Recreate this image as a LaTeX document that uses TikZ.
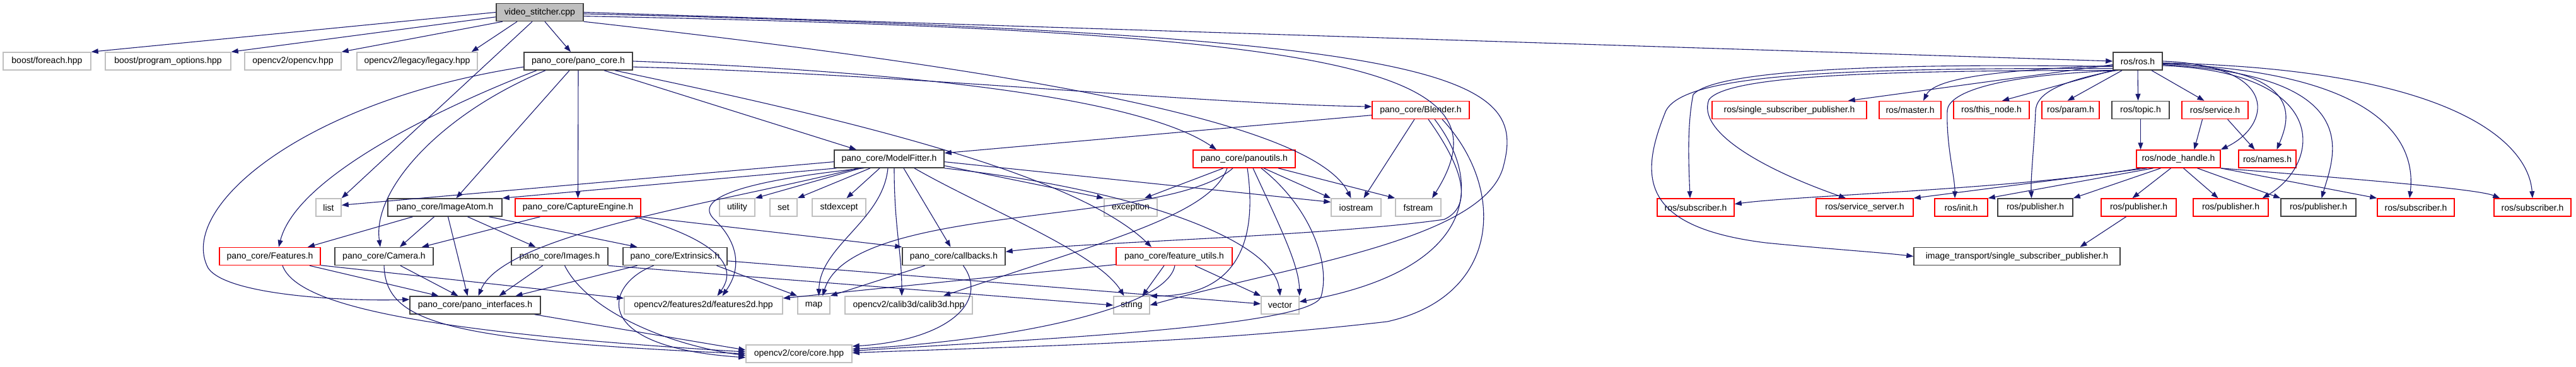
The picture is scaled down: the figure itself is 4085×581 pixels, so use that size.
\documentclass[tikz,border=0pt]{standalone}
\usepackage{fontspec}
\setmainfont{Liberation Sans}
\usetikzlibrary{arrows.meta}
\definecolor{edgec}{HTML}{191970}
\definecolor{grayb}{HTML}{BFBFBF}
\definecolor{darkb}{HTML}{404040}
\definecolor{redb}{HTML}{FF0000}
\tikzset{
 box/.style={draw, line width=1.5pt, inner sep=0pt, font=\fontsize{14}{16}\selectfont, anchor=center},
 doc/.style={box, draw=darkb},
 ext/.style={box, draw=grayb},
 trunc/.style={box, draw=redb},
 root/.style={box, draw=darkb, fill=grayb},
 e/.style={draw=edgec, line width=1.1pt, -{Triangle[length=11pt,width=8pt]}},
}
\newcommand\nd[6]{\node[#5, minimum width={(#3-#2)*1pt}, minimum height=28pt] (#1) at ({(#2+#3)/2},#4) {#6};}
\begin{document}
\begin{tikzpicture}[x=1pt,y=-1pt]
\fill[white] (0,0) rectangle (4085,581);
\useasboundingbox (0,0) rectangle (4085,581);
% ---------- nodes ----------
\nd{vs}{787}{925}{19.5}{root}{video\_stitcher.cpp}
\nd{foreach}{5}{144}{97}{ext}{boost/foreach.hpp}
\nd{po}{167}{366}{97}{ext}{boost/program\_options.hpp}
\nd{opencv}{388}{541}{97}{ext}{opencv2/opencv.hpp}
\nd{legacy}{566}{757}{97}{ext}{opencv2/legacy/legacy.hpp}
\nd{pc}{831}{1003}{97}{doc}{pano\_core/pano\_core.h}
\nd{ros}{3351}{3429}{97}{doc}{ros/ros.h}
\nd{blender}{2176}{2330}{174.5}{trunc}{pano\_core/Blender.h}
\nd{mf}{1323}{1497}{252}{doc}{pano\_core/ModelFitter.h}
\nd{pu}{1892}{2054}{252}{trunc}{pano\_core/panoutils.h}
\nd{list}{501}{541}{329}{ext}{list}
\nd{ia}{615}{796}{329}{doc}{pano\_core/ImageAtom.h}
\nd{ce}{817}{1016}{329}{trunc}{pano\_core/CaptureEngine.h}
\nd{utility}{1141}{1197}{329}{ext}{utility}
\nd{set}{1221}{1264}{329}{ext}{set}
\nd{stdexcept}{1288}{1373}{329}{ext}{stdexcept}
\nd{exception}{1751}{1835}{329}{ext}{exception}
\nd{iostream}{2111}{2190}{329}{ext}{iostream}
\nd{fstream}{2213}{2285}{329}{ext}{fstream}
\nd{features}{348}{508}{406.5}{trunc}{pano\_core/Features.h}
\nd{camera}{531}{687}{406.5}{doc}{pano\_core/Camera.h}
\nd{images}{811}{964}{406.5}{doc}{pano\_core/Images.h}
\nd{extr}{988}{1153}{406.5}{doc}{pano\_core/Extrinsics.h}
\nd{cb}{1431}{1594}{406.5}{doc}{pano\_core/callbacks.h}
\nd{fu}{1770}{1954}{406.5}{trunc}{pano\_core/feature\_utils.h}
\nd{pif}{650}{857}{484}{doc}{pano\_core/pano\_interfaces.h}
\nd{f2d}{990}{1241}{484}{ext}{opencv2/features2d/features2d.hpp}
\nd{map}{1265}{1316}{484}{ext}{map}
\nd{calib}{1340}{1542}{484}{ext}{opencv2/calib3d/calib3d.hpp}
\nd{string}{1766}{1823}{484}{ext}{string}
\nd{vector}{2000}{2060}{484}{ext}{vector}
\nd{core}{1183}{1351}{561}{ext}{opencv2/core/core.hpp}
% ROS side
\nd{rssp}{2715}{2960}{174.5}{trunc}{ros/single\_subscriber\_publisher.h}
\nd{rmaster}{2980}{3078}{174.5}{trunc}{ros/master.h}
\nd{rthis}{3098}{3218}{174.5}{trunc}{ros/this\_node.h}
\nd{rparam}{3238}{3329}{174.5}{trunc}{ros/param.h}
\nd{rtopic}{3349}{3440}{174.5}{doc}{ros/topic.h}
\nd{rservice}{3460}{3565}{174.5}{trunc}{ros/service.h}
\nd{rnh}{3388}{3521}{252}{trunc}{ros/node\_handle.h}
\nd{rnames}{3550}{3641}{252}{trunc}{ros/names.h}
\nd{rsub}{2628}{2750}{329}{trunc}{ros/subscriber.h}
\nd{rss}{2880}{3034}{329}{trunc}{ros/service\_server.h}
\nd{rinit}{3068}{3152}{329}{trunc}{ros/init.h}
\nd{rpubA}{3168}{3287}{329}{doc}{ros/publisher.h}
\nd{rpubB}{3332}{3451}{329}{trunc}{ros/publisher.h}
\nd{rpubC}{3478}{3597}{329}{trunc}{ros/publisher.h}
\nd{rpubD}{3617}{3736}{329}{doc}{ros/publisher.h}
\nd{rsubB}{3770}{3892}{329}{trunc}{ros/subscriber.h}
\nd{rsubC}{3955}{4077}{329}{trunc}{ros/subscriber.h}
\nd{itssp}{3035}{3362}{406.5}{doc}{image\_transport/single\_subscriber\_publisher.h}
% ---------- edges: video_stitcher ----------
\draw[e] (vs.180) -- (foreach.north east);
\draw[e] (vs.186) -- (po.north east);
\draw[e] (vs.194) -- (opencv.north east);
\draw[e] ([xshift=-36pt]vs.south) -- ([xshift=-10pt]legacy.north east);
\draw[e] ([xshift=-12pt]vs.south) -- (list.north east);
\draw[e] ([xshift=8pt]vs.south) -- ([xshift=-12pt]pc.north);
\draw[e] (vs.east) -- (ros.west);
\draw[e] (vs.355) .. controls (2150,50) and (2400,110) .. ([xshift=22pt]fstream.north);
\draw[e] (vs.358) .. controls (2300,55) and (2420,120) .. (2385,260) .. controls (2360,380) and (2050,420) .. (string.east);
\draw[e] (vs.south east) .. controls (1600,110) and (2080,190) .. ([xshift=-8pt]iostream.north);
% ---------- pano_core.h ----------
\draw[e] ([xshift=-66pt]pc.south) .. controls (700,170) and (470,280) .. ([xshift=14pt]features.north);
\draw[e] (pc.186) .. controls (480,160) and (280,330) .. (330,425) .. controls (360,470) and (560,478) .. (pif.175);
\draw[e] ([xshift=-52pt]pc.south) .. controls (700,180) and (590,300) .. ([xshift=-6pt]camera.north);
\draw[e] ([xshift=-14pt]pc.south) -- ([xshift=18pt]ia.north);
\draw[e] (pc.south) -- (ce.north);
\draw[e] ([xshift=41pt]pc.south) -- ([xshift=-52pt]mf.north);
\draw[e] ([xshift=58pt]pc.south) .. controls (1300,180) and (1700,270) .. ([xshift=-36pt]fu.north);
\draw[e] (pc.east) .. controls (1400,112) and (1800,150) .. ([xshift=-44pt]pu.north);
\draw[e] (pc.354) .. controls (1450,118) and (1900,165) .. (blender.176);
% ---------- ModelFitter ----------
\draw[e] (mf.183) -- (list.10);
\draw[e] (mf.190) -- (ia.north east);
\draw[e] ([xshift=-45pt]mf.south) -- (utility.north east);
\draw[e] ([xshift=-30pt]mf.south) -- (set.north east);
\draw[e] ([xshift=-15pt]mf.south) -- ([xshift=12pt]stdexcept.north);
\draw[e] ([xshift=-50pt]mf.south) .. controls (1150,320) and (800,370) .. ([xshift=5pt]pif.north);
\draw[e] (mf.200) .. controls (1150,290) and (1100,320) .. (1135,350) .. controls (1165,380) and (1180,420) .. ([xshift=30pt]f2d.north);
\draw[e] ([xshift=-2pt]mf.south) .. controls (1400,350) and (1300,390) .. ([xshift=8pt]map.north);
\draw[e] ([xshift=8pt]mf.south) .. controls (1418,360) and (1430,400) .. ([xshift=-11pt]calib.north);
\draw[e] ([xshift=23pt]mf.south) -- ([xshift=-5pt]cb.north);
\draw[e] ([xshift=40pt]mf.south) .. controls (1560,330) and (1740,400) .. ([xshift=-12pt]string.north);
\draw[e] (mf.south east) .. controls (1800,300) and (2020,380) .. (vector.north);
\draw[e] (mf.353) -- (exception.north west);
\draw[e] (mf.357) -- (iostream.168);
% ---------- panoutils ----------
\draw[e] ([xshift=-33pt]pu.south) -- ([xshift=22pt]exception.north);
\draw[e] ([xshift=31pt]pu.south) -- (iostream.north west);
\draw[e] ([xshift=54pt]pu.south) -- (fstream.north west);
\draw[e] ([xshift=-27pt]pu.south) .. controls (1920,340) and (1760,380) .. ([xshift=55pt]calib.north);
\draw[e] ([xshift=-18pt]pu.south) .. controls (1850,360) and (1350,320) .. ([xshift=14pt]map.north);
\draw[e] ([xshift=5pt]pu.south) .. controls (2000,420) and (1930,470) .. (string.north east);
\draw[e] ([xshift=14pt]pu.south) .. controls (2030,360) and (2060,420) .. (vector.north east);
\draw[e] ([xshift=27pt]pu.south) .. controls (2080,330) and (2110,420) .. (2095,470) .. controls (2080,520) and (1600,540) .. (core.3);
% ---------- Blender ----------
\draw[e] (blender.186) -- (mf.6);
\draw[e] ([xshift=-10pt]blender.south) -- ([xshift=12pt]iostream.north);
\draw[e] ([xshift=12pt]blender.south) .. controls (2330,280) and (2330,330) .. (2290,348) .. controls (2100,375) and (1700,385) .. (cb.5);
\draw[e] ([xshift=22pt]blender.south) .. controls (2360,300) and (2330,430) .. (vector.10);
\draw[e] ([xshift=34pt]blender.south) .. controls (2390,300) and (2380,470) .. (2200,510) .. controls (1900,545) and (1600,550) .. (core.1);
% ---------- callbacks / feature_utils ----------
\draw[e] ([xshift=-46pt]cb.south) -- (map.north east);
\draw[e] ([xshift=15pt]cb.south) .. controls (1570,480) and (1500,540) .. (core.8);
\draw[e] (fu.188) -- (f2d.5);
\draw[e] ([xshift=-16pt]fu.south) -- ([xshift=17pt]string.north);
\draw[e] ([xshift=33pt]fu.south) -- (vector.north west);
\draw[e] ([xshift=1pt]fu.south) .. controls (1850,490) and (1600,540) .. (core.5);
% ---------- Extrinsics / Images / Camera / Features ----------
\draw[e] ([xshift=-60pt]extr.south) -- ([xshift=64pt]pif.north);
\draw[e] ([xshift=-34pt]extr.south) .. controls (960,450) and (930,550) .. (core.184);
\draw[e] ([xshift=66pt]extr.south) -- (map.north west);
\draw[e] (extr.355) -- (vector.176);
\draw[e] ([xshift=-27pt]images.south) -- ([xshift=38pt]pif.north);
\draw[e] ([xshift=8pt]images.south) .. controls (930,490) and (1050,545) .. (core.182);
\draw[e] (images.south east) -- (string.west);
\draw[e] ([xshift=26pt]camera.south) -- ([xshift=-27pt]pif.north);
\draw[e] (camera.south) .. controls (612,510) and (700,540) .. (core.180);
\draw[e] ([xshift=63pt]features.south) -- ([xshift=-58pt]pif.north);
\draw[e] (features.350) -- (f2d.175);
\draw[e] ([xshift=20pt]features.south) .. controls (470,480) and (640,525) .. (core.178);
% ---------- ImageAtom / CaptureEngine / interfaces ----------
\draw[e] ([xshift=-51pt]ia.south) -- ([xshift=60pt]features.north);
\draw[e] ([xshift=-17pt]ia.south) -- ([xshift=25pt]camera.north);
\draw[e] ([xshift=5pt]ia.south) -- ([xshift=-12pt]pif.north);
\draw[e] ([xshift=36pt]ia.south) -- ([xshift=-38pt]images.north);
\draw[e] ([xshift=70pt]ia.south) -- ([xshift=-60pt]extr.north);
\draw[e] ([xshift=-60pt]ce.south) -- ([xshift=60pt]camera.north);
\draw[e] (ce.south east) -- (cb.north west);
\draw[e] ([xshift=90pt]ce.south) .. controls (1100,370) and (1180,410) .. ([xshift=22pt]f2d.north);
\draw[e] ([xshift=-10pt]pif.south east) -- (core.176);
% ---------- ROS ----------
\draw[e] (ros.188) -- ([xshift=-30pt]rssp.north east);
\draw[e] (ros.190) .. controls (3200,110) and (3070,120) .. ([xshift=21pt]rmaster.north);
\draw[e] (ros.south west) -- ([xshift=17pt]rthis.north);
\draw[e] ([xshift=-25pt]ros.south) -- ([xshift=-5pt]rparam.north);
\draw[e] (ros.south) -- ([xshift=-4pt]rtopic.north);
\draw[e] ([xshift=22pt]ros.south) -- ([xshift=-17pt]rservice.north);
\draw[e] (ros.east) .. controls (3620,105) and (3600,200) .. (rnh.north east);
\draw[e] (ros.355) .. controls (3660,110) and (3630,190) .. ([xshift=15pt]rnames.north);
\draw[e] (rtopic.south) -- ([xshift=-60pt]rnh.north);
\draw[e] ([xshift=-20pt]rservice.south) -- ([xshift=25pt]rnh.north);
\draw[e] ([xshift=20pt]rservice.south) -- ([xshift=-20pt]rnames.north);
\draw[e] (ros.192) .. controls (3000,100) and (2720,110) .. (2685,150) .. controls (2675,200) and (2678,260) .. ([xshift=-9pt]rsub.north);
\draw[e] (ros.196) .. controls (2900,108) and (2660,118) .. (2640,180) .. controls (2600,280) and (2600,360) .. (2800,385) .. controls (2900,395) and (2980,400) .. (itssp.west);
\draw[e] (ros.200) .. controls (3000,112) and (2740,118) .. (2710,158) .. controls (2690,210) and (2800,270) .. ([xshift=-30pt]rss.north);
\draw[e] (ros.205) .. controls (3150,120) and (3090,150) .. (3088,175) .. controls (3086,230) and (3100,280) .. ([xshift=-10pt]rinit.north);
\draw[e] ([xshift=-35pt]ros.south) .. controls (3260,130) and (3230,150) .. (3228,175) .. controls (3226,230) and (3220,280) .. ([xshift=-6pt]rpubA.north);
\draw[e] (ros.350) .. controls (3700,115) and (3680,260) .. ([xshift=-10pt]rpubC.north east);
\draw[e] (ros.352) .. controls (3760,120) and (3700,250) .. ([xshift=5pt]rpubD.north);
\draw[e] (ros.354) .. controls (3800,115) and (3830,240) .. ([xshift=-10pt]rsubB.north);
\draw[e] (ros.356) .. controls (3900,110) and (4010,230) .. (rsubC.north);
\draw[e] ([xshift=-60pt]rnh.south) .. controls (3200,300) and (2850,310) .. (rsub.5);
\draw[e] ([xshift=-50pt]rnh.south) -- (rss.north east);
\draw[e] ([xshift=-40pt]rnh.south) -- (rinit.north east);
\draw[e] ([xshift=-28pt]rnh.south) -- (rpubA.north east);
\draw[e] ([xshift=-12pt]rnh.south) -- ([xshift=-10pt]rpubB.north);
\draw[e] ([xshift=8pt]rnh.south) -- ([xshift=-20pt]rpubC.north);
\draw[e] ([xshift=30pt]rnh.south) -- (rpubD.north west);
\draw[e] (rnh.south east) -- (rsubB.north west);
\draw[e] (rnh.south east) .. controls (3750,285) and (3930,300) .. ([xshift=10pt]rsubC.north west);
\draw[e] ([xshift=-20pt]rpubB.south) -- ([xshift=100pt]itssp.north);
\end{tikzpicture}
\end{document}
